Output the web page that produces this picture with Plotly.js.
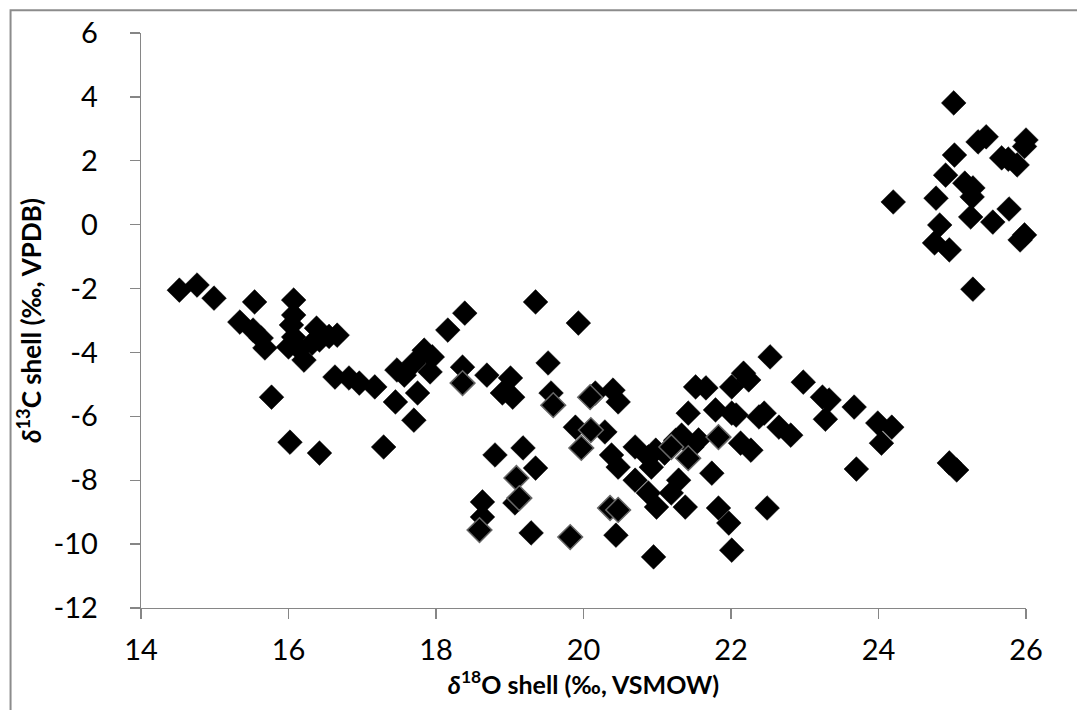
<!DOCTYPE html>
<html>
<head>
<meta charset="utf-8">
<script src="https://cdn.plot.ly/plotly-3.0.1.min.js"></script>
<style>
  html, body { margin: 0; padding: 0; background: #fff; overflow: hidden; }
  #chart { width: 1077px; height: 710px; }
</style>
</head>
<body>
<div id="chart"></div>
<script>
// δ18O shell (‰, VSMOW) and δ13C shell (‰, VPDB), black markers
const d18O_A = [
  14.52, 14.76, 14.99, 15.54, 15.34, 15.52, 15.63, 15.68, 16.07, 16.07, 16.04, 16.07, 16.00, 16.21,
  16.38, 16.42, 16.66, 16.32, 16.55, 16.15, 15.77, 16.63, 16.82, 16.96, 17.17, 17.45, 17.70, 16.02,
  16.42, 17.29, 17.84, 17.95, 17.92, 17.75, 17.70, 17.57, 17.47, 18.16,
  19.35, 19.93, 18.39, 19.52, 18.36, 18.69, 19.01, 18.90, 19.04, 19.56, 20.16, 20.40, 20.47, 19.89,
  20.29, 20.38, 20.47, 20.70, 20.88, 20.92, 20.98, 20.70, 20.88, 20.99, 21.33, 21.47, 21.56, 21.29,
  21.19, 21.38, 21.52, 21.66, 22.01, 21.42, 21.79, 22.01, 21.74, 21.83, 21.97, 22.01, 20.95, 20.44,
  19.29, 18.63, 18.63, 18.80, 19.18, 19.35, 19.07, 21.25, 21.10,
  22.53, 22.17, 22.24, 22.98, 23.24, 23.33, 23.28, 23.67, 23.99, 24.18, 24.04, 22.07, 22.38, 22.45,
  22.65, 22.81, 22.13, 22.27, 23.70, 24.96, 25.06, 22.49,
  25.02, 25.35, 25.46, 26.00, 25.98, 25.03, 25.67, 25.76, 25.88, 24.91, 25.17, 25.28, 25.27, 24.20,
  24.78, 25.77, 25.25, 25.55, 24.83, 25.98, 25.92, 24.76, 24.96, 25.28
];
const d13C_A = [
  -2.05, -1.89, -2.30, -2.42, -3.05, -3.30, -3.55, -3.86, -2.36, -2.83, -3.14, -3.52, -3.83, -4.24,
  -3.24, -3.61, -3.46, -3.71, -3.50, -3.90, -5.40, -4.77, -4.80, -4.96, -5.08, -5.55, -6.12, -6.81,
  -7.15, -6.96, -3.93, -4.14, -4.61, -5.27, -4.33, -4.71, -4.55, -3.30,
  -2.42, -3.08, -2.77, -4.33, -4.46, -4.71, -4.80, -5.27, -5.40, -5.27, -5.27, -5.18, -5.55, -6.34,
  -6.49, -7.21, -7.59, -6.96, -7.27, -7.59, -7.06, -8.00, -8.40, -8.84, -6.59, -6.96, -6.74, -8.00,
  -8.40, -8.84, -5.08, -5.11, -5.08, -5.90, -5.80, -5.90, -7.78, -8.87, -9.34, -10.19, -10.40, -9.72,
  -9.65, -9.15, -8.68, -7.21, -6.99, -7.62, -8.71, -6.75, -7.15,
  -4.14, -4.65, -4.86, -4.93, -5.40, -5.49, -6.09, -5.71, -6.21, -6.34, -6.84, -5.96, -6.02, -5.90,
  -6.34, -6.59, -6.84, -7.06, -7.65, -7.46, -7.68, -8.87,
  3.81, 2.59, 2.75, 2.65, 2.45, 2.18, 2.09, 2.05, 1.87, 1.55, 1.30, 1.15, 0.87, 0.71,
  0.83, 0.49, 0.24, 0.08, -0.01, -0.32, -0.48, -0.57, -0.79, -2.02
];
// markers drawn with a grey outline
const d18O_B = [18.36, 18.59, 19.09, 19.13, 19.59, 19.82, 19.97, 20.09, 20.10, 20.36, 20.47, 21.19, 21.42, 21.83];
const d13C_B = [-4.96, -9.56, -7.93, -8.56, -5.65, -9.78, -6.99, -5.40, -6.43, -8.87, -8.93, -6.96, -7.31, -6.65];

const xTicks = [14, 16, 18, 20, 22, 24, 26];
const yTicks = [-12, -10, -8, -6, -4, -2, 0, 2, 4, 6];

const FONT = "Lato, 'Open Sans', sans-serif";
const MS = 19;

const traces = [
  { x: d18O_A, y: d13C_A, type: 'scatter', mode: 'markers',
    marker: { symbol: 'diamond', size: MS, color: '#000', line: { width: 0.5, color: '#000' } },
    showlegend: false, hoverinfo: 'x+y', cliponaxis: false },
  { x: d18O_B, y: d13C_B, type: 'scatter', mode: 'markers',
    marker: { symbol: 'diamond', size: MS, color: '#000', line: { width: 1.5, color: '#666' } },
    showlegend: false, hoverinfo: 'x+y', cliponaxis: false }
];

const axisCommon = {
  showgrid: false, zeroline: false, showline: true, linecolor: '#868686', linewidth: 1.3,
  ticks: 'outside', ticklen: 10, tickcolor: '#868686', tickwidth: 1.3,
  tickfont: { family: FONT, size: 29, color: '#000' }
};

const layout = {
  width: 1077, height: 710,
  margin: { l: 141, r: 51, t: 33, b: 102 },
  paper_bgcolor: '#fff', plot_bgcolor: '#fff',
  xaxis: Object.assign({}, axisCommon, {
    range: [14, 26], tickmode: 'array', tickvals: xTicks, ticktext: xTicks.map(String),
    ticklabelstandoff: 6,
    title: { text: '<b><i>δ</i><sup>18</sup>O shell (‰, VSMOW)</b>', font: { family: FONT, size: 25, color: '#000' }, standoff: 0 }
  }),
  yaxis: Object.assign({}, axisCommon, {
    range: [-12, 6], tickmode: 'array', tickvals: yTicks, ticktext: yTicks.map(String),
    ticklabelstandoff: 26,
    title: { text: '<b><i>δ</i><sup>13</sup>C shell (‰, VPDB)</b>', font: { family: FONT, size: 26, color: '#000' }, standoff: 4 }
  }),
  shapes: [
    { type: 'path', xref: 'paper', yref: 'paper',
      path: 'M -0.1474 -0.25 L -0.1474 1.0395 L 1.2 1.0395',
      line: { color: '#8c8c8c', width: 2 } }
  ]
};

Plotly.newPlot('chart', traces, layout, { displayModeBar: false, staticPlot: true });
</script>
</body>
</html>
